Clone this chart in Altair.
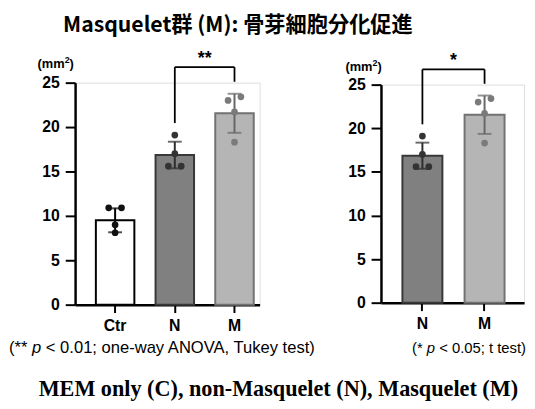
import altair as alt
import pandas as pd

# ---------------- data ----------------
groups_left = ["Ctr", "N", "M"]
groups_right = ["N", "M"]
bar_means = [9.5, 16.85, 21.55]
bar_sd = [1.35, 1.5, 2.2]
ctr_points = [10.9, 10.9, 9.0, 8.1]
n_points = [19.1, 17.0, 15.6, 15.6]
m_points = [23.0, 23.4, 21.7, 18.3]
y_ticks = [0, 5, 10, 15, 20, 25]
star_left = "**"
star_right = "*"

title_text = "Masquelet群 (M): 骨芽細胞分化促進"
caption_text = "MEM only (C), non-Masquelet (N), Masquelet (M)"
foot_left = ["(**", "p", "< 0.01; one-way ANOVA, Tukey test)"]
foot_right = ["(*", "p", "< 0.05; t test)"]
unit_parts = ["(mm", "2", ")"]

# ---------------- styles ----------------
fill_map = {"Ctr": "#ffffff", "N": "#808080", "M": "#b5b5b5"}
stroke_map = {"Ctr": "#000000", "N": "#383838", "M": "#727272"}
err_map = {"Ctr": "#000000", "N": "#2e2e2e", "M": "#666666"}
dot_map = {"Ctr": "#111111", "N": "#333333", "M": "#7a7a7a"}

SANS = "Liberation Sans"

# Arial / Liberation Sans advance widths (em) used to place footnote pieces
ARIAL_W = {"(": 0.333, ")": 0.333, "*": 0.389, " ": 0.278, "p": 0.556, "<": 0.584,
           "0": 0.556, "1": 0.556, "5": 0.556, ".": 0.278, ";": 0.278, ",": 0.278,
           "o": 0.556, "n": 0.556, "e": 0.556, "-": 0.333, "w": 0.722, "a": 0.556,
           "y": 0.5, "A": 0.667, "N": 0.722, "O": 0.778, "V": 0.667, "T": 0.611,
           "u": 0.556, "k": 0.5, "t": 0.278, "s": 0.5}

all_points = {"Ctr": ctr_points, "N": n_points, "M": m_points}


def text_w(s, fs):
    return sum(ARIAL_W.get(c, 0.556) for c in s) * fs


def bars_df(groups):
    rows = []
    for g in groups:
        i = groups_left.index(g)
        m, s = bar_means[i], bar_sd[i]
        rows.append({"g": g, "mean": m, "lo": m - s, "hi": m + s,
                     "fill": fill_map[g], "stroke": stroke_map[g], "err": err_map[g]})
    return pd.DataFrame(rows)


def points_df(groups, spacing=13.0, thr=0.5):
    rows = []
    for g in groups:
        vals = sorted(all_points[g])
        clusters = []
        for v in vals:
            if clusters and v - clusters[-1][-1] < thr:
                clusters[-1].append(v)
            else:
                clusters.append([v])
        for c in clusters:
            k = len(c)
            for j, v in enumerate(c):
                rows.append({"g": g, "v": v, "dx": (j - (k - 1) / 2) * spacing, "col": dot_map[g]})
    return pd.DataFrame(rows)


def bracket_dfs(a, b, gap_top=3.0, gap_leg=1.35):
    upper = {}
    for g in (a, b):
        i = groups_left.index(g)
        upper[g] = max(max(all_points[g]), bar_means[i] + bar_sd[i])
    top = max(upper.values()) + gap_top
    horiz = pd.DataFrame([{"a": a, "b": b, "y": top}])
    legs = pd.DataFrame([{"g": a, "y": upper[a] + gap_leg, "y2": top},
                         {"g": b, "y": upper[b] + gap_leg, "y2": top}])
    return horiz, legs, top


def txt(t, x, y, size, font, weight="normal", style="normal", align="left", color="#000"):
    return alt.Chart(pd.DataFrame({"t": [t]})).mark_text(
        font=font, fontSize=size, fontWeight=weight, fontStyle=style, align=align,
        baseline="alphabetic", color=color).encode(
        text="t:N", x=alt.value(x), y=alt.value(y))


def footnote(parts, x0, y0, fs):
    sp = text_w(" ", fs)
    x1 = x0 + text_w(parts[0], fs) + sp
    x2 = x1 + text_w(parts[1], fs) + sp
    return [txt(parts[0], x0, y0, fs, SANS),
            txt(parts[1], x1, y0, fs, SANS, style="italic"),
            txt(parts[2], x2, y0, fs, SANS)]


def footnote_width(parts, fs):
    return text_w(parts[0] + " " + parts[1] + " " + parts[2], fs)


def unit_label(x0, y0, fs=13.0, sup=9.0):
    w1 = fs * (0.333 + 0.889 * 2)
    w2 = sup * 0.556
    return [
        txt(unit_parts[0], x0, y0, fs, SANS, weight="bold"),
        txt(unit_parts[1], x0 + w1, y0 - 5, sup, SANS, weight="bold"),
        txt(unit_parts[2], x0 + w1 + w2, y0, fs, SANS, weight="bold"),
    ]


def panel(groups, width, height, pi, po, al, star, step, unit_xy, extra=None):
    xs = alt.Scale(domain=groups, paddingInner=pi, paddingOuter=po, align=al)
    ys = alt.Scale(domain=[0, 25], nice=False, zero=True)
    X = alt.X("g:N", scale=xs, sort=groups,
              axis=alt.Axis(title=None, labelAngle=0, tickSize=8, labelPadding=5,
                            labelFontSize=16, labelFontWeight="bold", labelFont=SANS,
                            labelColor="#000", domainWidth=2.5, tickWidth=2,
                            domainColor="#000", tickColor="#000", labelBaseline="top"))
    Y = alt.Y("mean:Q", scale=ys,
              axis=alt.Axis(values=y_ticks, title=None, tickSize=10, tickWidth=2, domainWidth=2.5,
                            domainColor="#000", tickColor="#000", labelPadding=6,
                            labelFontSize=16, labelFontWeight="bold", labelFont=SANS,
                            labelColor="#000", grid=False))

    bdf = bars_df(groups)
    base = alt.Chart(bdf)
    bars = base.mark_bar(strokeWidth=2).encode(
        x=X, y=Y,
        fill=alt.Fill("fill:N", scale=None),
        stroke=alt.Stroke("stroke:N", scale=None))
    err = base.mark_rule(strokeWidth=2).encode(
        x=alt.X("g:N", scale=xs, sort=groups), y=alt.Y("lo:Q", scale=ys), y2="hi:Q",
        color=alt.Color("err:N", scale=None))
    cap_hi = base.mark_tick(thickness=2, size=14).encode(
        x=alt.X("g:N", scale=xs, sort=groups), y=alt.Y("hi:Q", scale=ys),
        color=alt.Color("err:N", scale=None))
    cap_lo = base.mark_tick(thickness=2, size=14).encode(
        x=alt.X("g:N", scale=xs, sort=groups), y=alt.Y("lo:Q", scale=ys),
        color=alt.Color("err:N", scale=None))

    pdf = points_df(groups)
    dots = []
    for dx in sorted(pdf["dx"].unique()):
        dots.append(alt.Chart(pdf[pdf["dx"] == dx]).mark_circle(size=46, opacity=1, xOffset=float(dx)).encode(
            x=alt.X("g:N", scale=xs, sort=groups), y=alt.Y("v:Q", scale=ys),
            color=alt.Color("col:N", scale=None)))

    horiz, legs, top = bracket_dfs("N", "M")
    br_h = alt.Chart(horiz).mark_rule(strokeWidth=1.8, color="#000").encode(
        x=alt.X("a:N", scale=xs, sort=groups), x2="b:N", y=alt.Y("y:Q", scale=ys))
    br_v = alt.Chart(legs).mark_rule(strokeWidth=1.8, color="#000").encode(
        x=alt.X("g:N", scale=xs, sort=groups), y=alt.Y("y:Q", scale=ys), y2="y2:Q")
    st = alt.Chart(pd.DataFrame([{"g": "N", "y": top, "t": star}])).mark_text(
        font=SANS, fontSize=18, fontWeight="bold", color="#000", baseline="alphabetic",
        align="center", dx=step / 2, dy=-3).encode(
        x=alt.X("g:N", scale=xs, sort=groups), y=alt.Y("y:Q", scale=ys), text="t:N")

    layers = [bars, err, cap_hi, cap_lo] + dots + [br_h, br_v, st] + unit_label(*unit_xy)
    if extra:
        layers += extra
    return alt.layer(*layers).properties(width=width, height=height)


FS_L = 16.8
FS_R = 15.0
fy = 274
fl_x = -67
fr_end = 457
extras = (
    [txt(title_text, 165, -51, 21.5, "Noto Sans CJK JP", weight="bold", align="center"),
     txt(caption_text, 206, 318, 22.5, "Liberation Serif", weight="bold", align="center")]
    + footnote(foot_left, fl_x, fy, FS_L)
    + footnote(foot_right, fr_end - footnote_width(foot_right, FS_R), fy, FS_R)
)

left = panel(groups_left, 187, 225, 0.355, 0.223, 0.78, star_left, 60.5, (-38, -15), extras)
right = panel(groups_right, 145, 221, 0.357, 0.3294, 0.524, star_right, 63.0, (-36, -14))

chart = alt.hconcat(left, right, spacing=123, bounds="flush", center=True).properties(
    padding={"left": 0, "top": 4, "right": 0, "bottom": 0}
).configure_view(stroke=None).configure(background="#ffffff")

chart.save("out.html", embed_options={"renderer": "svg", "actions": False})
